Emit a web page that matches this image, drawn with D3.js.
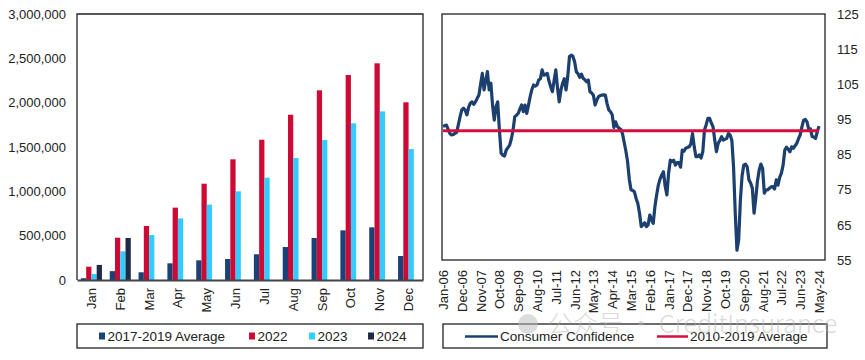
<!DOCTYPE html>
<html>
<head>
<meta charset="utf-8">
<script src="https://cdn.jsdelivr.net/npm/d3@7"></script>
<style>
  html, body { margin: 0; padding: 0; background: #fff; }
  svg { display: block; font-family: "Liberation Sans", Arial, sans-serif; }
</style>
</head>
<body>
<svg id="chart" width="865" height="360"></svg>
<script>
// ---------- DATA ----------
const months = ["Jan","Feb","Mar","Apr","May","Jun","Jul","Aug","Sep","Oct","Nov","Dec"];
const seriesNames = ["2017-2019 Average","2022","2023","2024"];
const avg1719 = [20000, 100000, 87000, 188000, 222000, 237000, 290000, 372000, 474000, 560000, 594000, 271000];
const y2022   = [150000, 477000, 609000, 816000, 1086000, 1361000, 1582000, 1864000, 2139000, 2312000, 2444000, 2004000];
const y2023   = [68000, 323000, 507000, 695000, 850000, 1000000, 1154000, 1376000, 1579000, 1767000, 1902000, 1477000];
const y2024   = [170000, 474000, null, null, null, null, null, null, null, null, null, null];
const leftTicks = [0, 500000, 1000000, 1500000, 2000000, 2500000, 3000000];

// Consumer confidence, monthly Jan-06 .. May-24
const confidence = [
  93.1, 93.2, 93.4, 92.2, 91.0, 90.6, 90.7, 91.0, 91.3, 93.5,
  95.8, 97.7, 98.2, 97.6, 96.3, 98.5, 99.6, 100.0, 99.3, 100.0,
  101.0, 101.9, 105.0, 108.1, 103.4, 106.0, 108.6, 103.4, 105.3, 99.0,
  94.8, 98.6, 100.0, 92.0, 85.4, 84.8, 84.6, 86.3, 87.0, 87.7,
  89.5, 92.0, 95.8, 96.2, 96.7, 98.0, 99.1, 97.2, 99.1, 96.7,
  99.0, 101.5, 103.5, 104.8, 104.5, 104.8, 106.2, 106.6, 109.1, 107.6,
  107.8, 108.1, 106.0, 104.3, 102.9, 106.0, 109.1, 104.0, 100.0, 103.4,
  105.3, 106.6, 103.4, 107.2, 112.9, 113.3, 113.0, 111.4, 108.6, 108.0,
  107.0, 107.9, 106.7, 106.3, 105.7, 106.2, 102.9, 102.5, 101.9, 99.1,
  100.5, 101.5, 101.8, 101.9, 102.0, 101.9, 99.5, 97.7, 97.2, 96.3,
  92.7, 94.3, 93.0, 92.5, 92.2, 91.0, 88.5, 86.0, 83.0, 78.0,
  75.0, 74.8, 74.4, 72.5, 71.1, 68.3, 64.5, 65.0, 65.6, 64.5,
  65.0, 67.8, 66.5, 65.4, 70.2, 73.5, 76.3, 78.0, 79.2, 80.1,
  76.0, 73.5, 79.7, 83.4, 83.0, 83.4, 82.0, 82.7, 82.7, 81.4,
  86.3, 86.0, 86.8, 87.0, 87.2, 88.0, 91.0, 87.2, 84.4, 84.4,
  84.9, 84.0, 85.8, 92.0, 93.5, 95.3, 95.3, 94.0, 92.9, 89.1,
  85.8, 88.2, 89.0, 90.1, 89.1, 89.4, 89.6, 91.0, 90.6, 89.1,
  81.5, 68.3, 57.8, 60.7, 72.0, 79.0, 82.0, 82.3, 81.5, 77.8,
  76.9, 75.4, 68.3, 72.5, 77.5, 80.6, 82.3, 81.1, 74.0, 74.9,
  75.0, 75.4, 75.8, 75.9, 75.2, 77.8, 76.3, 78.5, 79.7, 82.0,
  86.3, 87.1, 86.5, 85.8, 87.2, 86.8, 87.5, 88.2, 89.5, 90.6,
  92.9, 94.8, 95.0, 94.3, 92.2, 92.3, 90.1, 90.0, 89.6, 91.5,
  93.1
];
const avg1019 = 91.8;
const dateLabels = ["Jan-06","Dec-06","Nov-07","Oct-08","Sep-09","Aug-10","Jul-11","Jun-12","May-13","Apr-14","Mar-15","Feb-16","Jan-17","Dec-17","Nov-18","Oct-19","Sep-20","Aug-21","Jul-22","Jun-23","May-24"];
const rightTicks = [55, 65, 75, 85, 95, 105, 115, 125];
const lineNames = ["Consumer Confidence", "2010-2019 Average"];

// ---------- STYLE ----------
const colors = ["#1B4278", "#CC0A35", "#33CCFF", "#1F2A48"];
const blue = "#1B406F", red = "#D40F3C";
const fontSize = 13;
const legendFont = 13.5;
const textColor = "#222";
const ff = "'Liberation Sans', Arial, sans-serif";

const svg = d3.select("#chart");

// ---------- LEFT CHART ----------
const L = {x0: 77, x1: 423, y0: 14, y1: 280};
const xBand = d3.scaleBand().domain(months).range([L.x0, L.x1]).paddingInner(0.27).paddingOuter(0.135);
const xSub = d3.scaleBand().domain(d3.range(4)).range([0, xBand.bandwidth()]);
const yL = d3.scaleLinear().domain([0, 3000000]).range([L.y1, L.y0]);
const seriesData = [avg1719, y2022, y2023, y2024];

const gBars = svg.append("g");
seriesData.forEach((vals, si) => {
  gBars.selectAll(null)
    .data(months.map((m, i) => ({m, v: vals[i]})).filter(d => d.v != null))
    .enter().append("rect")
    .attr("x", d => xBand(d.m) + xSub(si))
    .attr("width", xSub.bandwidth())
    .attr("y", d => yL(d.v))
    .attr("height", d => yL(0) - yL(d.v))
    .attr("fill", colors[si]);
});

// frame
svg.append("path")
  .attr("d", `M${L.x0},${L.y1}V${L.y0}H${L.x1}V${L.y1}`)
  .attr("fill", "none").attr("stroke", "#222").attr("stroke-width", 1.3);

const yAxisL = svg.append("g")
  .attr("transform", `translate(${L.x0},0)`)
  .call(d3.axisLeft(yL).tickValues(leftTicks).tickFormat(d3.format(",")).tickSize(0).tickPadding(11));
yAxisL.select(".domain").remove();
yAxisL.selectAll("text").style("font-size", fontSize + "px").attr("fill", textColor)
  .style("font-family", ff);

const xAxisL = svg.append("g")
  .attr("transform", `translate(0,${L.y1})`)
  .call(d3.axisBottom(xBand).tickSize(0));
xAxisL.select(".domain").attr("stroke", "#444").attr("stroke-width", 2);
xAxisL.selectAll("text")
  .attr("transform", "rotate(-90)")
  .attr("x", -8).attr("y", 0).attr("dy", "0.35em")
  .style("text-anchor", "end")
  .style("font-size", fontSize + "px").attr("fill", textColor)
  .style("font-family", ff);

// left legend
const lg = svg.append("g");
lg.append("rect").attr("x", 77).attr("y", 324).attr("width", 346).attr("height", 24)
  .attr("fill", "#fff").attr("stroke", "#222").attr("stroke-width", 1.3);
const legX = [99, 249, 309, 368];
seriesNames.forEach((n, i) => {
  lg.append("rect").attr("x", legX[i]).attr("y", 332.5).attr("width", 6).attr("height", 7).attr("fill", colors[i]);
  lg.append("text").attr("x", legX[i] + 8.5).attr("y", 340.5).text(n)
    .style("font-size", legendFont + "px").attr("fill", textColor);
});

// ---------- RIGHT CHART ----------
const R = {x0: 442, x1: 825, y0: 14, y1: 260};
const xR = d3.scaleLinear().domain([0, confidence.length - 1]).range([443, 819]);
const yR = d3.scaleLinear().domain([55, 125]).range([R.y1, R.y0]);

svg.append("rect").attr("x", R.x0).attr("y", R.y0).attr("width", R.x1 - R.x0).attr("height", R.y1 - R.y0)
  .attr("fill", "none").attr("stroke", "#222").attr("stroke-width", 1.3);

const line = d3.line().x((d, i) => xR(i)).y(d => yR(d));
svg.append("path").datum(confidence).attr("d", line)
  .attr("fill", "none").attr("stroke", blue).attr("stroke-width", 3.2).attr("stroke-linejoin", "round");

svg.append("line")
  .attr("x1", xR(0)).attr("x2", xR(confidence.length - 1))
  .attr("y1", yR(avg1019)).attr("y2", yR(avg1019))
  .attr("stroke", red).attr("stroke-width", 3);

const yAxisR = svg.append("g")
  .attr("transform", `translate(${R.x1},0)`)
  .call(d3.axisRight(yR).tickValues(rightTicks).tickSize(0).tickPadding(12));
yAxisR.select(".domain").remove();
yAxisR.selectAll("text").style("font-size", fontSize + "px").attr("fill", textColor)
  .style("font-family", ff);

const tickIdx = dateLabels.map((d, i) => i * 11);
const xAxisR = svg.append("g")
  .attr("transform", `translate(0,${R.y1})`)
  .call(d3.axisBottom(xR).tickValues(tickIdx).tickFormat((d, i) => dateLabels[i]).tickSize(0));
xAxisR.select(".domain").remove();
xAxisR.selectAll("text")
  .attr("transform", "rotate(-90)")
  .attr("x", -10).attr("y", 0).attr("dy", "0.35em")
  .style("text-anchor", "end")
  .style("font-size", fontSize + "px").attr("fill", textColor)
  .style("font-family", ff);

// right legend
const rg = svg.append("g");
rg.append("rect").attr("x", 443).attr("y", 324).attr("width", 384).attr("height", 24)
  .attr("fill", "#fff").attr("stroke", "#222").attr("stroke-width", 1.3);
rg.append("line").attr("x1", 465).attr("x2", 498).attr("y1", 336.5).attr("y2", 336.5)
  .attr("stroke", blue).attr("stroke-width", 2.5);
rg.append("text").attr("x", 500).attr("y", 341).text(lineNames[0])
  .style("font-size", legendFont + "px").attr("fill", textColor);
rg.append("line").attr("x1", 657).attr("x2", 688).attr("y1", 336.5).attr("y2", 336.5)
  .attr("stroke", red).attr("stroke-width", 2.5);
rg.append("text").attr("x", 690).attr("y", 341).text(lineNames[1])
  .style("font-size", legendFont + "px").attr("fill", textColor);

// watermark
const wm = svg.append("g").attr("opacity", 0.5);
wm.append("circle").attr("cx", 528).attr("cy", 324).attr("r", 10).attr("fill", "#bbb");
wm.append("text").attr("x", 548).attr("y", 333).text("公众号 · CreditInsurance")
  .style("font-family", "'Noto Sans CJK SC', 'Liberation Sans', sans-serif")
  .style("font-size", "25px").style("font-weight", 300).attr("fill", "#b5b5b5");
</script>
</body>
</html>
